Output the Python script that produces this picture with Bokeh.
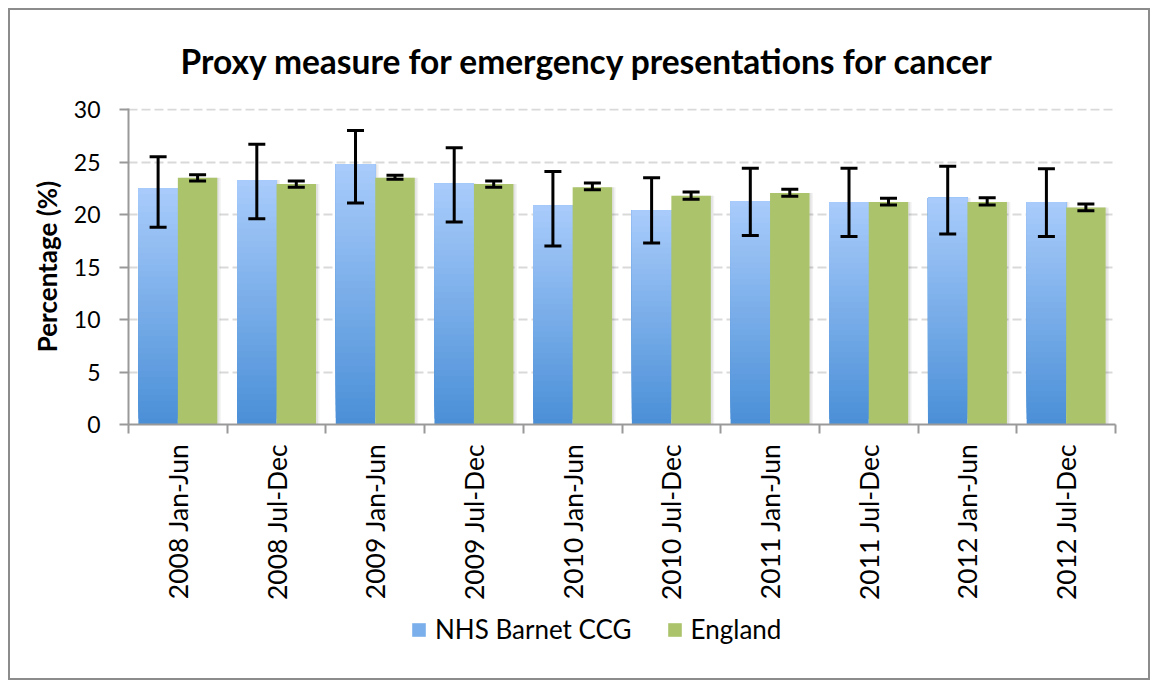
from bokeh.plotting import figure
from bokeh.layouts import column
from bokeh.models import (ColumnDataSource, Range1d, FixedTicker, Whisker, TeeHead,
                          Legend, LegendItem, Title)
from bokeh.embed import file_html
from bokeh.resources import INLINE
import numpy as np

periods = ["2008 Jan-Jun", "2008 Jul-Dec", "2009 Jan-Jun", "2009 Jul-Dec", "2010 Jan-Jun",
           "2010 Jul-Dec", "2011 Jan-Jun", "2011 Jul-Dec", "2012 Jan-Jun", "2012 Jul-Dec"]
barnet = [22.5, 23.3, 24.8, 22.95, 20.85, 20.4, 21.3, 21.2, 21.6, 21.2]
barnet_lo = [18.8, 19.6, 21.1, 19.3, 17.0, 17.3, 18.0, 17.9, 18.15, 17.9]
barnet_hi = [25.5, 26.7, 28.0, 26.35, 24.1, 23.5, 24.4, 24.4, 24.6, 24.35]
england = [23.5, 22.9, 23.5, 22.9, 22.6, 21.8, 22.05, 21.2, 21.2, 20.67]
england_lo = [23.2, 22.6, 23.35, 22.6, 22.35, 21.45, 21.75, 20.9, 20.9, 20.35]
england_hi = [23.8, 23.2, 23.75, 23.2, 23.0, 22.15, 22.4, 21.55, 21.6, 21.0]
y_ticks = [0, 5, 10, 15, 20, 25, 30]

FONT = "Lato"
BLUE_TOP = np.array([0xA9, 0xCC, 0xFB])
BLUE_BOT = np.array([0x4A, 0x8F, 0xD7])
BLUE_MID = "#7AAFEB"
GREEN = "#ABC46C"
W = 0.4
centers = [i + 0.5 for i in range(len(periods))]
xb = [c - W / 2 for c in centers]
xe = [c + W / 2 for c in centers]

p = figure(width=1158, height=610, x_range=Range1d(0, 10), y_range=Range1d(0, 30.1),
           output_backend="svg", toolbar_location=None,
           min_border_left=128, min_border_right=43, min_border_top=108, min_border_bottom=186)
p.outline_line_color = None
p.background_fill_color = None
p.border_fill_color = None

# title
p.title = Title(text="Proxy measure for emergency presentations for cancer", align="left",
                offset=52, text_font=FONT, text_font_size="33.5px", text_font_style="bold",
                text_color="black", standoff=56)

# grid
p.xgrid.visible = False
p.ygrid.ticker = FixedTicker(ticks=y_ticks)
p.ygrid.grid_line_color = "#D9D9D9"
p.ygrid.grid_line_width = 2
p.ygrid.grid_line_dash = "9 4"

# soft shadows
for off, a in ((0.035, 0.05), (0.02, 0.06)):
    p.vbar(x=[x + off for x in xb], top=barnet, width=W, bottom=0, fill_color="black",
           fill_alpha=a, line_color=None)
    p.vbar(x=[x + off for x in xe], top=england, width=W, bottom=0, fill_color="black",
           fill_alpha=a, line_color=None)

# gradient blue bars: stacked slices of each bar, light at the top, dark at the bottom
N = 40
L, R, B, T, C = [], [], [], [], []
for x, v in zip(xb, barnet):
    for k in range(N):
        f = (k + 0.5) / N
        rgb = BLUE_BOT + (BLUE_TOP - BLUE_BOT) * f
        L.append(x - W / 2)
        R.append(x + W / 2)
        B.append(v * k / N)
        T.append(v)
        C.append("#%02x%02x%02x" % tuple(int(round(c)) for c in rgb))
p.quad(left=L, right=R, bottom=B, top=T, fill_color=C, line_color=None)

p.vbar(x=xe, top=england, width=W, bottom=0, fill_color=GREEN, line_color=None)

# error bars
src_b = ColumnDataSource(dict(x=xb, lo=barnet_lo, hi=barnet_hi))
src_e = ColumnDataSource(dict(x=xe, lo=england_lo, hi=england_hi))
for src in (src_b, src_e):
    w = Whisker(source=src, base="x", upper="hi", lower="lo", dimension="height",
                line_color="black", line_width=3, level="overlay",
                upper_head=TeeHead(size=17, line_color="black", line_width=3),
                lower_head=TeeHead(size=17, line_color="black", line_width=3))
    p.add_layout(w)

# axes
p.xaxis.ticker = FixedTicker(ticks=centers, minor_ticks=list(range(11)))
p.xaxis.major_label_overrides = {c: lab for c, lab in zip(centers, periods)}
p.xaxis.major_label_orientation = np.pi / 2
p.xaxis.major_tick_line_color = None
p.xaxis.major_tick_out = 0
p.xaxis.major_tick_in = 0
p.xaxis.minor_tick_in = 0
p.xaxis.minor_tick_out = 9
p.xaxis.minor_tick_line_color = "#999999"
p.xaxis.minor_tick_line_width = 2
p.xaxis.axis_line_color = "#999999"
p.xaxis.axis_line_width = 2
p.xaxis.major_label_standoff = 10
p.xaxis.major_label_text_font = FONT
p.xaxis.major_label_text_font_size = "26.5px"
p.xaxis.major_label_text_color = "black"

p.yaxis.ticker = FixedTicker(ticks=y_ticks)
p.yaxis.minor_tick_line_color = None
p.yaxis.major_tick_in = 0
p.yaxis.major_tick_out = 9
p.yaxis.major_tick_line_color = "#999999"
p.yaxis.major_tick_line_width = 2
p.yaxis.axis_line_color = "#999999"
p.yaxis.axis_line_width = 2
p.yaxis.major_label_standoff = 19
p.yaxis.major_label_text_font = FONT
p.yaxis.major_label_text_font_size = "23px"
p.yaxis.major_label_text_color = "black"
p.yaxis.axis_label = "Percentage (%)"
p.yaxis.axis_label_text_font = FONT
p.yaxis.axis_label_text_font_size = "26px"
p.yaxis.axis_label_text_font_style = "bold"
p.yaxis.axis_label_text_color = "black"
p.yaxis.axis_label_standoff = 8

# legend strip (legend-only renderers have zero height, so nothing is drawn)
lf = figure(width=1158, height=78, x_range=Range1d(0, 1), y_range=Range1d(0, 1),
            output_backend="svg", toolbar_location=None,
            min_border_left=0, min_border_right=0, min_border_top=0, min_border_bottom=0)
lf.axis.visible = False
lf.grid.visible = False
lf.outline_line_color = None
lf.background_fill_color = None
lf.border_fill_color = None
lb = lf.vbar(x=[0.5], top=[0.5], bottom=[0.5], width=0.0, fill_color=BLUE_MID, line_color=None)
lg = lf.vbar(x=[0.5], top=[0.5], bottom=[0.5], width=0.0, fill_color=GREEN, line_color=None)
legend = Legend(items=[LegendItem(label="NHS Barnet CCG", renderers=[lb]),
                       LegendItem(label="England", renderers=[lg])],
                orientation="horizontal", location=(282, 43), border_line_color=None,
                background_fill_alpha=0, glyph_width=17, glyph_height=17,
                label_standoff=8, spacing=34, padding=0, margin=0,
                label_text_font=FONT, label_text_font_size="26px", label_text_color="black")
lf.add_layout(legend, "center")

layout = column(p, lf, spacing=0,
                styles={"outline": "2px solid #8c8c8c", "outline-offset": "-10px",
                        "background-color": "white"})

open("out.html", "w").write(file_html(layout, INLINE))
